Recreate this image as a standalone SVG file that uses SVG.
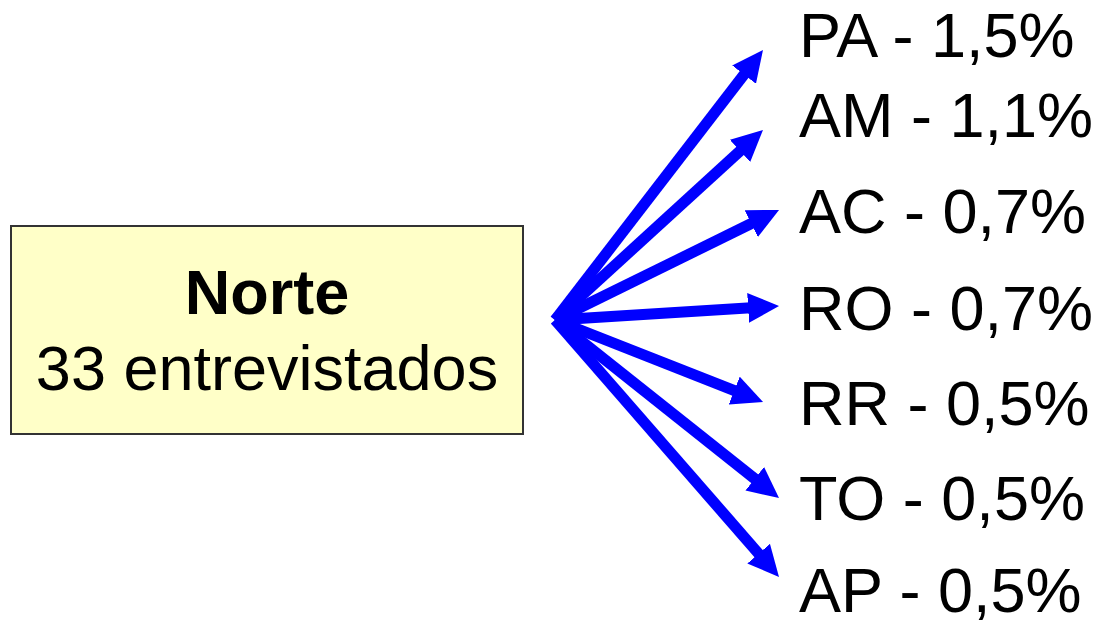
<svg xmlns="http://www.w3.org/2000/svg" width="1100" height="626" viewBox="0 0 1100 626">
<style>
.lbl{font-family:"Liberation Sans",Arial,sans-serif;font-size:63px;fill:#000}
.arr{stroke:#0000FF;stroke-width:11;fill:none;marker-end:url(#ah)}
</style>
<defs>
<marker id="ah" viewBox="0 0 31 30" refX="3" refY="15" markerWidth="31" markerHeight="30" markerUnits="userSpaceOnUse" orient="auto">
<path d="M0,0 L31,15 L0,30 z" fill="#0000FF"/>
</marker>
</defs>
<rect width="1100" height="626" fill="#fff"/>
<g id="norte">
<rect x="11" y="226" width="512" height="208" fill="#FFFFC8" stroke="#333" stroke-width="2"/>
<text class="lbl" x="267" y="314" text-anchor="middle" font-weight="bold">Norte</text>
<text class="lbl" x="267" y="390" text-anchor="middle">33 entrevistados</text>
</g>
<g id="connectors">
<line class="arr" x1="555" y1="320" x2="745.9" y2="72.2"/>
<line class="arr" x1="555" y1="320" x2="742.3" y2="148.9"/>
<line class="arr" x1="555" y1="320" x2="753.9" y2="222.3"/>
<line class="arr" x1="555" y1="320" x2="751.1" y2="307.7"/>
<line class="arr" x1="555" y1="320" x2="737.0" y2="391.7"/>
<line class="arr" x1="555" y1="320" x2="757.1" y2="480.6"/>
<line class="arr" x1="555" y1="320" x2="760.6" y2="555.9"/>
</g>
<g id="pa"><text class="lbl" x="799" y="57">PA - 1,5%</text></g>
<g id="am"><text class="lbl" x="799" y="137">AM - 1,1%</text></g>
<g id="ac"><text class="lbl" x="799" y="233">AC - 0,7%</text></g>
<g id="ro"><text class="lbl" x="799" y="330">RO - 0,7%</text></g>
<g id="rr"><text class="lbl" x="799" y="425">RR - 0,5%</text></g>
<g id="to"><text class="lbl" x="799" y="520">TO - 0,5%</text></g>
<g id="ap"><text class="lbl" x="799" y="612">AP - 0,5%</text></g>
</svg>
